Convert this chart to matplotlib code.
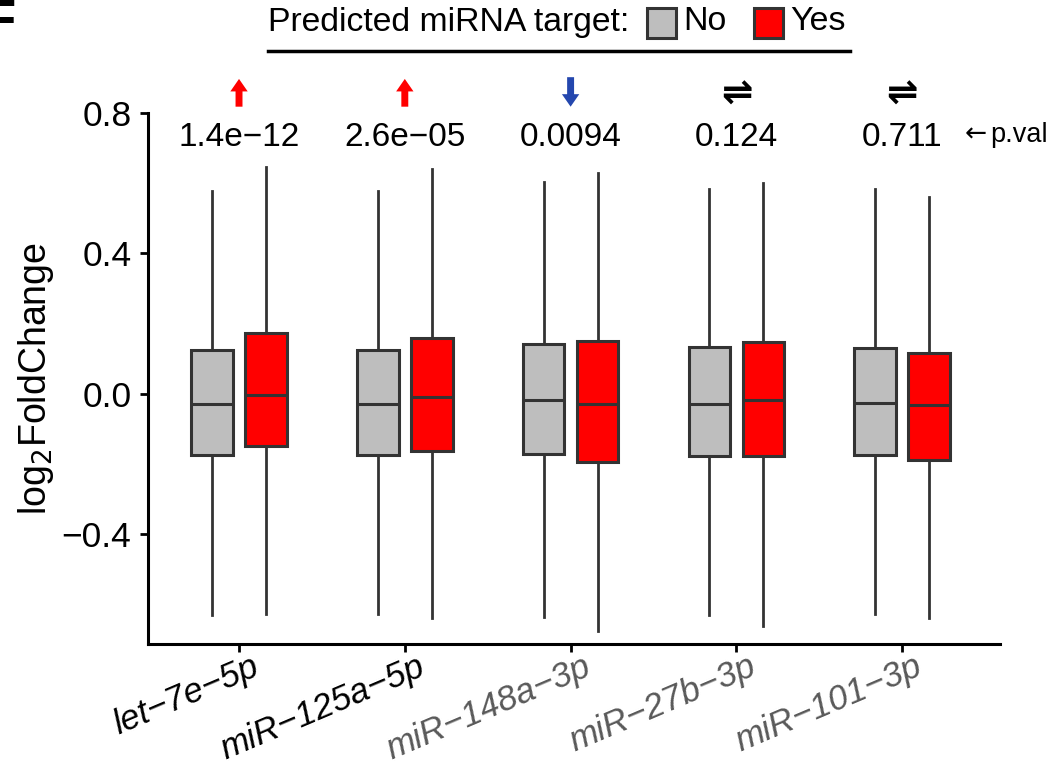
import matplotlib
matplotlib.use("Agg")
import matplotlib.pyplot as plt
from matplotlib.patches import Rectangle, FancyArrowPatch, ArrowStyle
from matplotlib.lines import Line2D
import matplotlib.transforms as mtransforms

plt.rcParams["font.family"] = ["Liberation Sans", "DejaVu Sans"]

# miRNAs and p-values of the No-vs-Yes comparison
mirnas = ["let\u22127e\u22125p", "miR\u2212125a\u22125p", "miR\u2212148a\u22123p",
          "miR\u221227b\u22123p", "miR\u2212101\u22123p"]
label_colors = ["black", "black", "#595959", "#595959", "#595959"]
pvals = ["1.4e\u221212", "2.6e\u221205", "0.0094", "0.124", "0.711"]
direction = ["up", "up", "down", "none", "none"]

# box statistics, not predicted targets
no_lo = [-0.630, -0.627, -0.635, -0.630, -0.627]
no_q1 = [-0.174, -0.174, -0.171, -0.177, -0.174]
no_med = [-0.028, -0.028, -0.017, -0.028, -0.026]
no_q3 = [0.125, 0.125, 0.142, 0.134, 0.131]
no_hi = [0.579, 0.578, 0.604, 0.584, 0.584]

# box statistics, predicted targets
yes_lo = [-0.627, -0.638, -0.675, -0.661, -0.638]
yes_q1 = [-0.148, -0.162, -0.194, -0.177, -0.188]
yes_med = [-0.003, -0.008, -0.028, -0.017, -0.031]
yes_q3 = [0.174, 0.160, 0.151, 0.148, 0.117]
yes_hi = [0.647, 0.641, 0.630, 0.601, 0.561]

W, H = 1064, 764
fig = plt.figure(figsize=(W / 100, H / 100), dpi=100)
ax = fig.add_axes([148 / W, 1 - 644 / H, (1000 - 148) / W, (644 - 113) / H])

edge = "#333333"
fills = {"no": "#BEBEBE", "yes": "#FF0000"}
offset = 0.163
width = 0.25


def make_stats(lo, q1, med, q3, hi):
    return [dict(whislo=a, q1=b, med=c, q3=d, whishi=e, fliers=[])
            for a, b, c, d, e in zip(lo, q1, med, q3, hi)]


pos = [i + 1 for i in range(len(mirnas))]
groups = [
    ("no", make_stats(no_lo, no_q1, no_med, no_q3, no_hi), -offset),
    ("yes", make_stats(yes_lo, yes_q1, yes_med, yes_q3, yes_hi), offset),
]
for key, stats, dx in groups:
    ax.bxp(stats, positions=[p + dx for p in pos], widths=width,
           showcaps=False, showfliers=False, patch_artist=True,
           boxprops=dict(facecolor=fills[key], edgecolor=edge, linewidth=2.2),
           medianprops=dict(color=edge, linewidth=2.2),
           whiskerprops=dict(color=edge, linewidth=2.0),
           manage_ticks=False)

ax.set_xlim(0.451, 5.59)
ax.set_ylim(-0.712, 0.8)
ax.set_yticks([-0.4, 0.0, 0.4, 0.8])
ax.set_yticklabels(["\u22120.4", "0.0", "0.4", "0.8"])
ax.set_xticks(pos)
ax.set_xticklabels([])
ax.tick_params(axis="y", labelsize=25.5, width=2, length=6, color="black",
               pad=6)
ax.tick_params(axis="x", width=2, length=6, color="black")
for side in ["top", "right"]:
    ax.spines[side].set_visible(False)
for side in ["left", "bottom"]:
    ax.spines[side].set_linewidth(2.2)
ax.set_ylabel("log$_2$FoldChange", fontsize=27, labelpad=4)

# slanted miRNA names, anchored a little right of each tick
name_offset = mtransforms.ScaledTranslation(12 / 100, -6 / 100,
                                            fig.dpi_scale_trans)
for x, name, c in zip(pos, mirnas, label_colors):
    ax.text(x, 0, name, transform=ax.get_xaxis_transform() + name_offset,
            ha="right", va="top", rotation=23, rotation_mode="anchor",
            fontstyle="italic", fontsize=25, color=c)

# p-values and direction marks above each pair
arrow_style = ArrowStyle.Simple(head_length=9, head_width=12.5, tail_width=5)
for x, p, d in zip(pos, pvals, direction):
    ax.text(x, 0.729, p, ha="center", va="center", fontsize=24, clip_on=False)
    if d == "up":
        arr = FancyArrowPatch((x, 0.818), (x, 0.897), arrowstyle=arrow_style,
                              mutation_scale=1, color="#FF0000", lw=0,
                              shrinkA=0, shrinkB=0, clip_on=False)
        ax.add_patch(arr)
    elif d == "down":
        arr = FancyArrowPatch((x, 0.902), (x, 0.818), arrowstyle=arrow_style,
                              mutation_scale=1, color="#2447AE", lw=0,
                              shrinkA=0, shrinkB=0, clip_on=False)
        ax.add_patch(arr)
    else:
        ax.text(x, 0.852, "\u21cc", ha="center", va="center", fontsize=27,
                family="DejaVu Sans", fontweight="bold", clip_on=False)

# legend and side notes drawn in pixel coordinates
px = mtransforms.Affine2D().scale(1 / W, -1 / H).translate(0, 1) + fig.transFigure
fig.text(976, 135, "\u2190", transform=px, ha="center", va="center",
         fontsize=19, family="DejaVu Sans")
fig.text(990, 135, "p.val", transform=px, ha="left", va="center",
         fontsize=19.5)
fig.text(268, 22, "Predicted miRNA target:", transform=px, ha="left",
         va="center", fontsize=24.3)
for x0, key, lab in [(647, "no", "No"), (754, "yes", "Yes")]:
    fig.add_artist(Rectangle((x0, 38), 29, -30, transform=px,
                             facecolor=fills[key], edgecolor=edge, lw=2.2))
    fig.text(x0 + 36, 22, lab, transform=px, ha="left", va="center",
             fontsize=24.5)
fig.add_artist(Line2D([268, 850], [51, 51], transform=px, color="black",
                      lw=2.5))

# panel letter at the corner
fig.text(16, 37, "F", transform=px, ha="right", va="baseline", fontsize=38,
         fontweight="bold")

fig.savefig("out.png", dpi=100)
